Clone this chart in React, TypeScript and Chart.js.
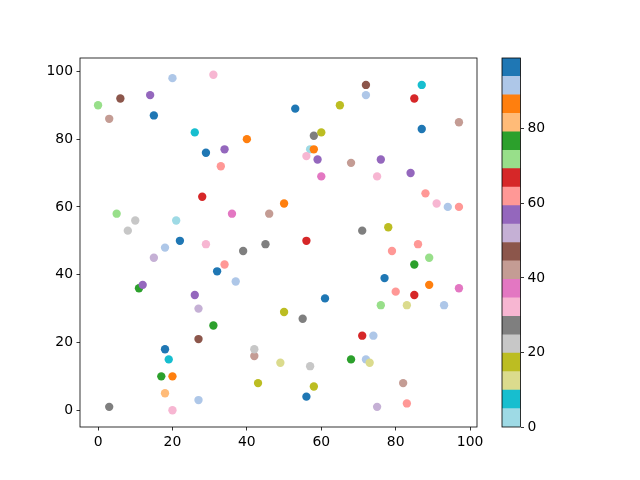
import React, { useEffect, useRef } from "react";
import { Chart, registerables } from "chart.js";
Chart.register(...registerables);

// x, y positions and colour values of the points
const xs = [0, 6, 3, 14, 20, 31, 15, 26, 29, 33, 34, 40, 53, 65, 72, 72, 87, 85, 87, 97,
  58, 60, 57, 58, 56, 59, 60, 68, 76, 75, 84, 28, 5, 10, 8, 21, 22, 29, 18, 15,
  32, 11, 12, 26, 27, 50, 36, 46, 45, 56, 39, 34, 37, 61, 50, 88, 91, 94, 97, 71,
  78, 86, 79, 89, 85, 77, 89, 97, 80, 85, 76, 83, 93, 31, 27, 18, 19, 17, 20, 18,
  27, 3, 20, 55, 42, 42, 49, 57, 43, 58, 56, 68, 71, 74, 72, 73, 82, 83, 75];
const ys = [90, 92, 86, 93, 98, 99, 87, 82, 76, 72, 77, 80, 89, 90, 96, 93, 96, 92, 83, 85,
  81, 82, 77, 77, 75, 74, 69, 73, 74, 69, 70, 63, 58, 56, 53, 56, 50, 49, 48, 45,
  41, 36, 37, 34, 30, 61, 58, 58, 49, 50, 47, 43, 38, 33, 29, 64, 61, 60, 60, 53,
  54, 49, 47, 45, 43, 39, 37, 36, 35, 34, 31, 31, 31, 25, 21, 18, 15, 10, 10, 5,
  3, 1, 0, 27, 16, 18, 14, 13, 8, 7, 4, 15, 22, 22, 15, 14, 8, 2, 1];
const cs = [72, 47, 42, 57, 92, 32, 97, 7, 97, 62, 57, 87, 97, 17, 47, 92, 7, 67, 97, 42,
  27, 17, 2, 87, 32, 57, 37, 42, 57, 32, 57, 67, 72, 22, 22, 2, 97, 32, 92, 52,
  97, 77, 57, 57, 52, 87, 37, 42, 27, 67, 27, 62, 92, 97, 17, 62, 32, 92, 62, 27,
  17, 62, 62, 72, 77, 97, 87, 37, 62, 67, 72, 12, 92, 77, 47, 97, 7, 77, 87, 82,
  92, 27, 32, 27, 42, 22, 12, 22, 17, 17, 97, 77, 67, 92, 92, 12, 42, 62, 52];

const CBAR_MIN = 0;
const CBAR_MAX = 99;
const CBAR_TICKS = [0, 20, 40, 60, 80];
const X_TICKS = [0, 20, 40, 60, 80, 100];
const Y_TICKS = [0, 20, 40, 60, 80, 100];
// tab20 reversed (low value -> first)
const TAB20_R = ["#9edae5", "#17becf", "#dbdb8d", "#bcbd22", "#c7c7c7", "#7f7f7f", "#f7b6d2", "#e377c2",
  "#c49c94", "#8c564b", "#c5b0d5", "#9467bd", "#ff9896", "#d62728", "#98df8a", "#2ca02c",
  "#ffbb78", "#ff7f0e", "#aec7e8", "#1f77b4"];

const FONT = { family: "'DejaVu Sans', sans-serif", size: 13.9 };

function colorFor(v: number) {
  const n = TAB20_R.length;
  let k = Math.floor(((v - CBAR_MIN) / (CBAR_MAX - CBAR_MIN)) * n);
  k = Math.max(0, Math.min(n - 1, k));
  return TAB20_R[k];
}

const frame = {
  id: "frame",
  afterDraw(chart: any) {
    const { left, top, right, bottom } = chart.chartArea;
    const ctx = chart.ctx;
    ctx.save();
    ctx.strokeStyle = "#000";
    ctx.lineWidth = 0.8;
    ctx.strokeRect(left, top, right - left, bottom - top);
    ctx.restore();
  },
};

function span(arr: number[]) {
  const mn = Math.min(...arr);
  const mx = Math.max(...arr);
  const m = (mx - mn) * 0.05;
  return [mn - m, mx + m];
}

export default function App() {
  const mainRef = useRef<HTMLCanvasElement>(null);
  const cbRef = useRef<HTMLCanvasElement>(null);

  useEffect(() => {
    const [xmin, xmax] = span(xs);
    const [ymin, ymax] = span(ys);
    const pts = xs.map((x, i) => ({ x, y: ys[i] }));
    const tickGrid = {
      drawOnChartArea: false,
      drawTicks: true,
      tickLength: 3.5,
      color: "#000",
      tickColor: "#000",
      lineWidth: 0.8,
    };
    const main = new Chart(mainRef.current!, {
      type: "scatter",
      data: {
        datasets: [
          {
            data: pts,
            pointRadius: 4.17,
            pointHoverRadius: 4.17,
            pointBorderWidth: 0,
            pointBackgroundColor: cs.map(colorFor),
            pointBorderColor: "rgba(0,0,0,0)",
          },
        ],
      },
      options: {
        responsive: false,
        animation: false,
        layout: { padding: { top: 58, right: 13, left: 0, bottom: 0 } },
        plugins: { legend: { display: false }, tooltip: { enabled: false } },
        scales: {
          x: {
            type: "linear",
            min: xmin,
            max: xmax,
            border: { display: false },
            grid: tickGrid,
            ticks: { color: "#000", font: FONT, padding: 3.5, maxRotation: 0 },
            afterBuildTicks: (s: any) => {
              s.ticks = X_TICKS.map((v) => ({ value: v }));
            },
            afterFit: (s: any) => {
              s.height = 53;
            },
          },
          y: {
            type: "linear",
            min: ymin,
            max: ymax,
            border: { display: false },
            grid: tickGrid,
            ticks: { color: "#000", font: FONT, padding: 3.5 },
            afterBuildTicks: (s: any) => {
              s.ticks = Y_TICKS.map((v) => ({ value: v }));
            },
            afterFit: (s: any) => {
              s.width = 80;
            },
          },
        },
      },
      plugins: [frame],
    });

    const seg = (CBAR_MAX - CBAR_MIN) / TAB20_R.length;
    const cb = new Chart(cbRef.current!, {
      type: "bar",
      data: {
        labels: [""],
        datasets: TAB20_R.map((col) => ({
          data: [seg],
          backgroundColor: col,
          borderWidth: 0,
          barPercentage: 1,
          categoryPercentage: 1,
        })),
      },
      options: {
        responsive: false,
        animation: false,
        layout: { padding: { top: 58, right: 0, left: 12, bottom: 53 } },
        plugins: { legend: { display: false }, tooltip: { enabled: false } },
        scales: {
          x: { display: false, stacked: true },
          y: {
            stacked: true,
            position: "right",
            min: CBAR_MIN,
            max: CBAR_MAX,
            border: { display: false },
            grid: tickGrid,
            ticks: { color: "#000", font: FONT, padding: 3.5 },
            afterBuildTicks: (s: any) => {
              s.ticks = CBAR_TICKS.map((v) => ({ value: v }));
            },
            afterFit: (s: any) => {
              s.width = 119.5;
            },
          },
        },
      },
      plugins: [frame],
    });

    return () => {
      main.destroy();
      cb.destroy();
    };
  }, []);

  return (
    <div style={{ position: "fixed", left: 0, top: 0, width: 640, height: 480, background: "#fff" }}>
      <canvas ref={mainRef} width={490} height={480} style={{ position: "absolute", left: 0, top: 0 }} />
      <canvas ref={cbRef} width={150} height={480} style={{ position: "absolute", left: 490, top: 0 }} />
    </div>
  );
}
